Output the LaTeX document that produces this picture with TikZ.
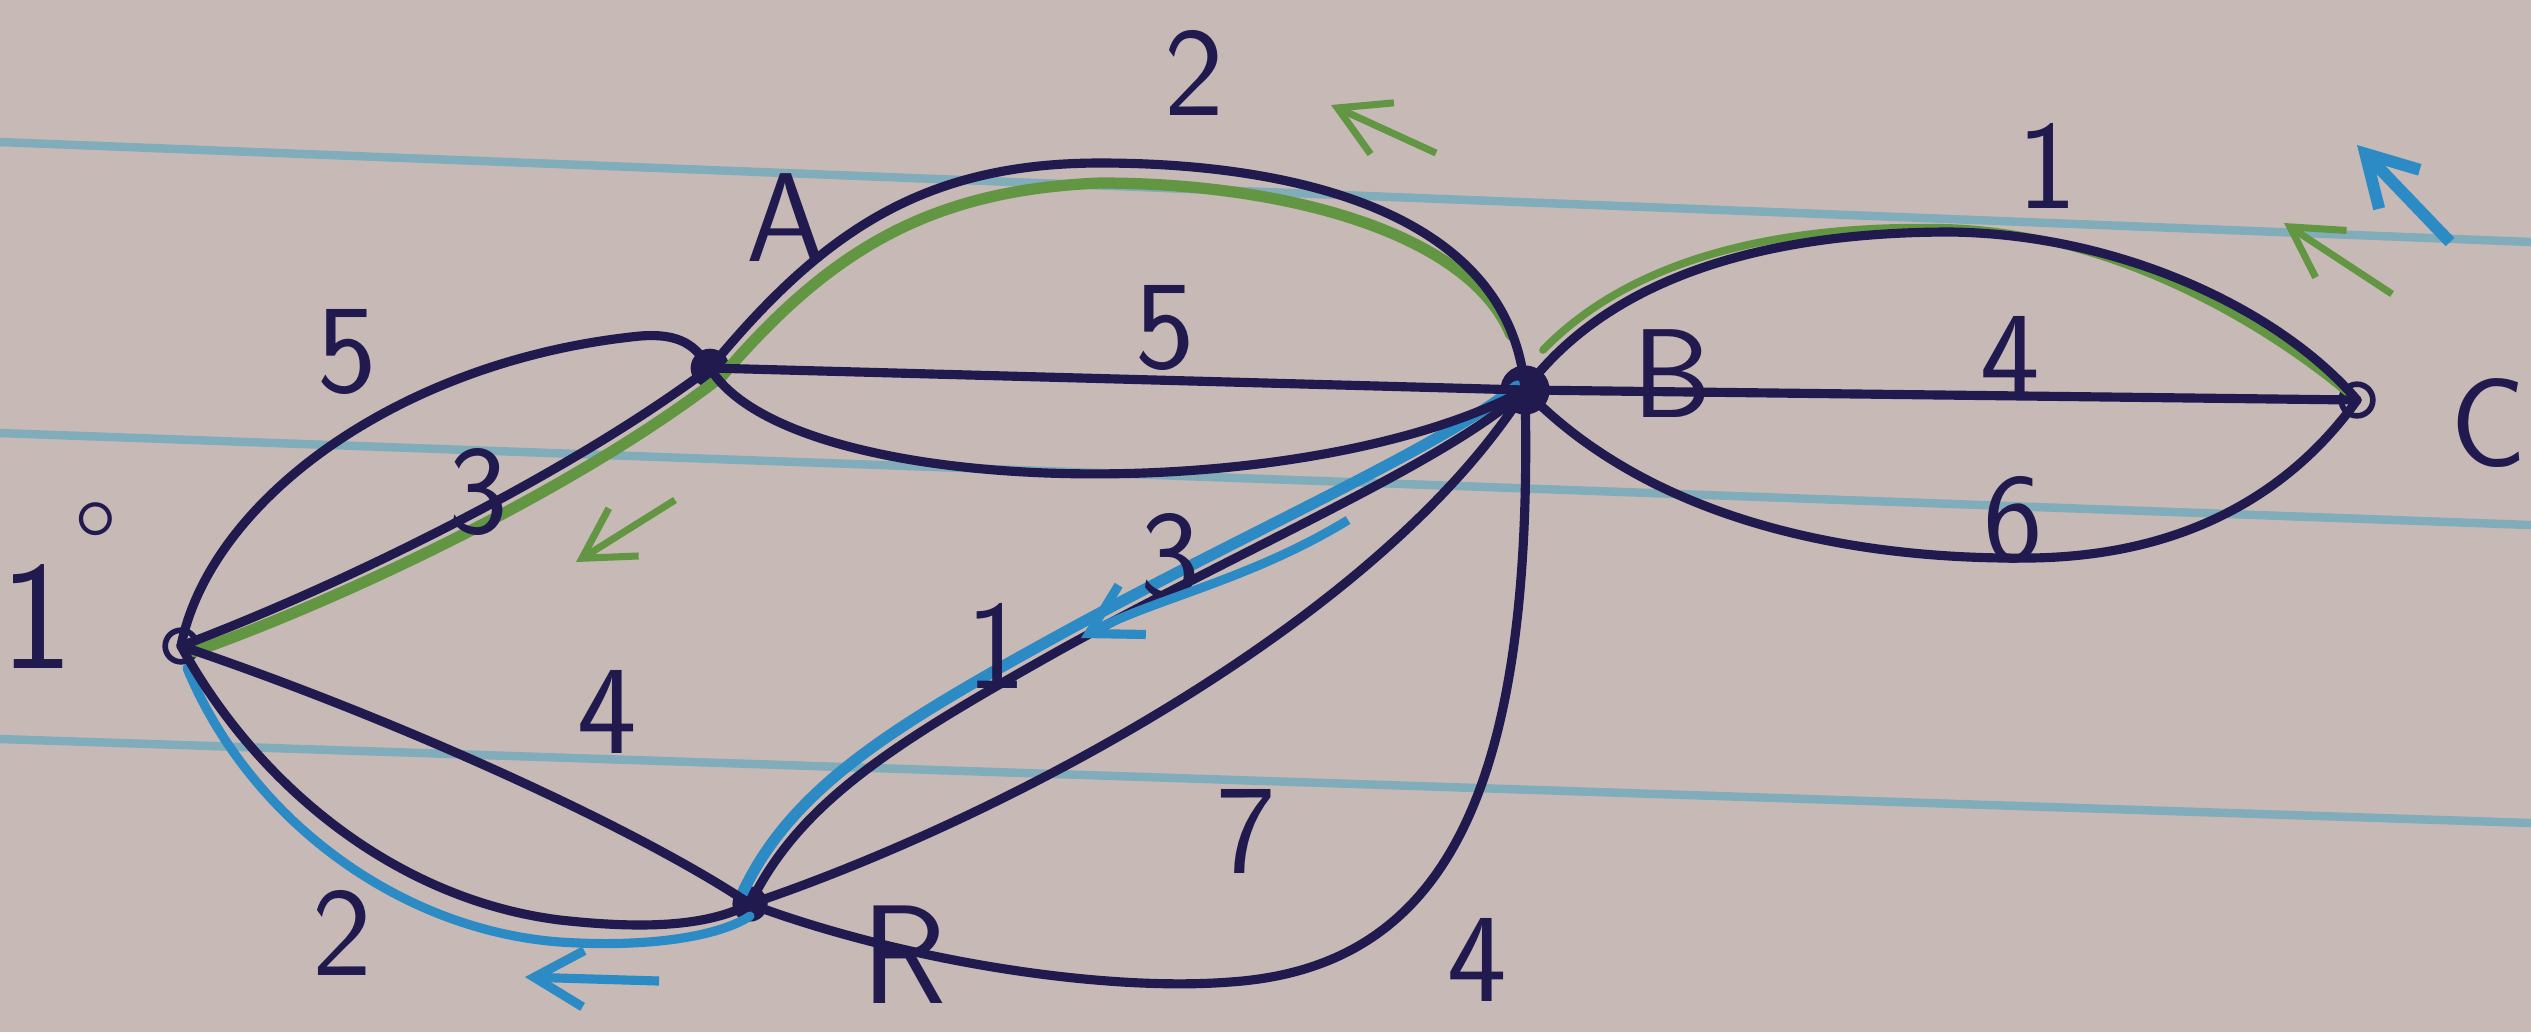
\documentclass[tikz,border=0pt]{standalone}
\usepackage{fontspec}
\usetikzlibrary{arrows.meta,calc}
\definecolor{paper}{RGB}{198,185,182}
\definecolor{rule}{RGB}{118,170,186}
\definecolor{ink}{RGB}{32,26,78}
\definecolor{hgreen}{RGB}{98,150,66}
\definecolor{hblue}{RGB}{44,138,196}
\tikzset{
  edge/.style={draw=ink,line width=2.6pt,line cap=round},
  greenhl/.style={draw=hgreen,line width=2.2pt,line cap=round},
  bluehl/.style={draw=hblue,line width=2.6pt,line cap=round},
  vdot/.style={circle,fill=ink,inner sep=0pt,minimum size=#1},
  vring/.style={circle,draw=ink,line width=1.6pt,inner sep=0pt,minimum size=#1},
  lbl/.style={text=ink,font=\sffamily\fontsize{36}{40}\selectfont,inner sep=0pt},
  garrow/.style={draw=hgreen,line width=2pt,-{Straight Barb[length=14pt,width=16pt]}},
  barrow/.style={draw=hblue,line width=2.6pt,-{Straight Barb[length=14pt,width=16pt]}},
  ruling/.style={draw=rule,line width=2.4pt,opacity=0.85}
}
\begin{document}
\begin{tikzpicture}[x=0.01cm,y=-0.01cm]
\useasboundingbox[fill=paper] (0,0) rectangle (2531,1032);
% paper ruling
\draw[ruling] (0,142) -- (2531,242);
\draw[ruling] (0,433) -- (2531,525);
\draw[ruling] (0,739) -- (2531,823);

% vertices
\node[vring=9pt] (V1) at (181,646) {};
\node[vdot=11pt] (A) at (710,368) {};
\node[vdot=14pt] (B) at (1525,390) {};
\node[vring=9pt] (C) at (2357,400) {};
\node[vdot=10pt] (R) at (750,904) {};

% highlights (drawn beneath the ink)
\draw[greenhl,line width=3.2pt] ($(V1.center)+(12,6)$) .. controls (340,600) and (575,490) .. ($(A.center)+(12,8)$)
   .. controls (830,250) and (930,190) .. (1100,183) .. controls (1290,183) and (1470,235) .. ($(B.center)+(-14,-55)$);
\draw[greenhl] ($(B.center)+(18,-40)$) .. controls (1640,250) and (1800,224) .. (1950,228) .. controls (2110,234) and (2258,318) .. ($(C.center)+(-8,-6)$);
\draw[bluehl] ($(V1.center)+(6,22)$) .. controls (250,820) and (400,930) .. (560,942) .. controls (650,948) and (720,936) .. ($(R.center)+(0,12)$);
\draw[bluehl,line width=3.2pt] ($(R.center)+(-8,-10)$) .. controls (790,790) and (890,728) .. (1050,640) .. controls (1240,535) and (1440,448) .. ($(B.center)+(-8,-4)$);

% edges
\draw[edge] (V1.center) .. controls (210,500) and (400,360) .. (640,336) .. controls (680,333) and (695,345) .. (A.center);
\draw[edge] (V1.center) .. controls (330,590) and (560,480) .. (A.center);
\draw[edge] (A.center) .. controls (820,235) and (920,163) .. (1100,163) .. controls (1300,163) and (1510,215) .. (B.center);
\draw[edge] (A.center) -- (B.center);
\draw[edge] (A.center) .. controls (790,500) and (1300,510) .. (B.center);
\draw[edge] (B.center) .. controls (1620,262) and (1800,232) .. (1950,232) .. controls (2120,234) and (2280,310) .. (C.center);
\draw[edge] (B.center) -- (C.center);
\draw[edge] (B.center) .. controls (1650,520) and (1850,560) .. (2030,558) .. controls (2200,556) and (2300,480) .. (C.center);
\draw[edge] (V1.center) .. controls (400,720) and (640,830) .. (R.center);
\draw[edge] (V1.center) .. controls (260,790) and (400,900) .. (560,920) .. controls (650,930) and (710,925) .. (R.center);
\draw[edge] (R.center) .. controls (800,800) and (900,740) .. (1060,650) .. controls (1250,545) and (1450,460) .. (B.center);
\draw[edge] (R.center) .. controls (1000,820) and (1380,620) .. (B.center);
\draw[edge] (R.center) .. controls (900,960) and (1100,992) .. (1230,982) .. controls (1440,968) and (1535,800) .. (B.center);

% vertex labels
\node[lbl,font=\sffamily\fontsize{44}{48}\selectfont,anchor=base west] (l1) at (0,668) {1\raisebox{22pt}{\fontsize{36}{40}\selectfont °}};
\node[lbl] (lA) at (786,218) {A};
\node[lbl] (lB) at (1672,374) {B};
\node[lbl] (lC) at (2488,423) {C};
\node[lbl,font=\sffamily\fontsize{40}{44}\selectfont] (lR) at (904,955) {R};

% weights
\node[lbl] (w1) at (347,352) {5};
\node[lbl] (w2) at (478,492) {3};
\node[lbl] (w3) at (1194,73) {2};
\node[lbl] (w4) at (1165,328) {5};
\node[lbl] (w5) at (2047,166) {1};
\node[lbl] (w6) at (2010,358) {4};
\node[lbl] (w7) at (2013,520) {6};
\node[lbl] (w8) at (1170,557) {3};
\node[lbl] (w9) at (996,646) {1};
\node[lbl] (w10) at (607,712) {4};
\node[lbl] (w11) at (1246,831) {7};
\node[lbl] (w12) at (342,933) {2};
\node[lbl] (w13) at (1477,960) {4};

% direction arrows
\coordinate (ga1t) at (675,500); \coordinate (ga1h) at (576,562);
\coordinate (ga2t) at (1436,153); \coordinate (ga2h) at (1331,105);
\coordinate (ga3t) at (2392,294); \coordinate (ga3h) at (2284,223);
\coordinate (ba1t) at (2450,242); \coordinate (ba1h) at (2357,145);
\coordinate (ba2t) at (1348,520); \coordinate (ba2h) at (1081,638);
\coordinate (ba3t) at (659,981);  \coordinate (ba3h) at (525,977);
\draw[garrow] (ga1t) -- (ga1h);
\draw[garrow] (ga2t) -- (ga2h);
\draw[garrow] (ga3t) -- (ga3h);
\draw[barrow,line width=3.4pt] (ba1t) -- (ba1h);
\draw[barrow] (ba2t) .. controls (1250,580) and (1150,600) .. (ba2h);
\draw[barrow] (ba3t) -- (ba3h);
\end{tikzpicture}
\end{document}
